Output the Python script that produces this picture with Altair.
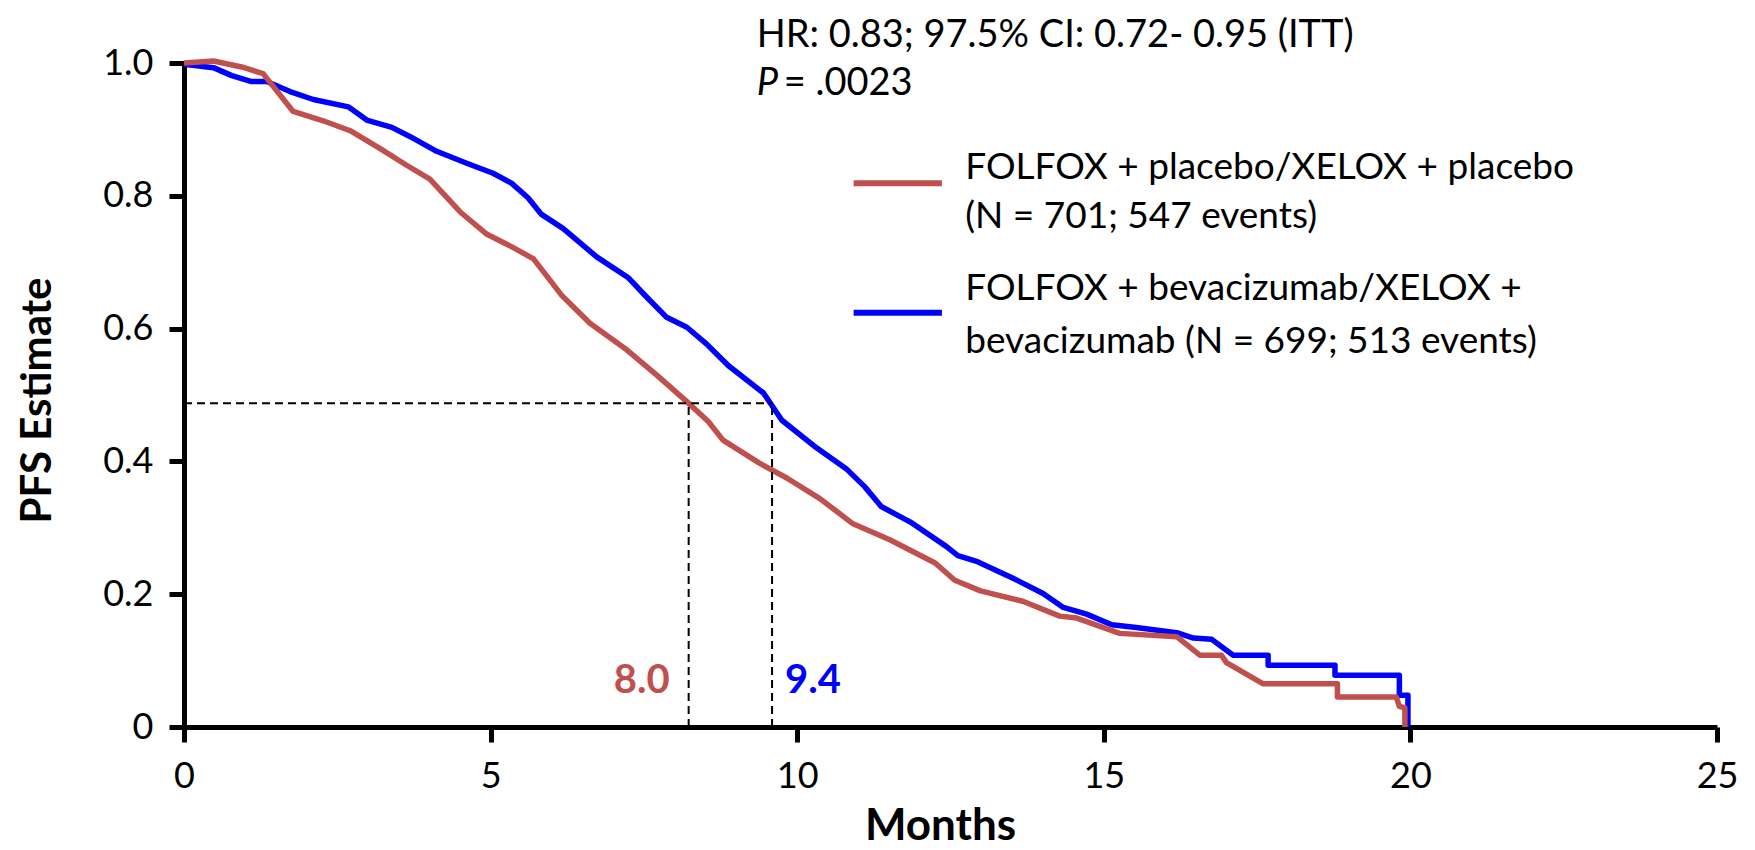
import altair as alt
import pandas as pd

# ---- data ----
placebo_months = [0, 0.48, 0.94, 1.29, 1.78, 2.27, 2.71, 3.20, 3.63, 4.01, 4.50, 4.94, 5.37, 5.70,
                  6.16, 6.62, 7.22, 7.71, 8.20, 8.55, 8.79, 9.39, 9.83, 10.37, 10.91, 11.51, 12.25,
                  12.57, 12.99, 13.69, 14.28, 14.56, 15.26, 16.19, 16.57, 16.92, 17.00, 17.60, 18.81,
                  18.81, 19.77, 19.82, 19.91, 19.91]
placebo_pfs = [1.0, 1.003, 0.994, 0.984, 0.927, 0.913, 0.898, 0.871, 0.846, 0.825, 0.776, 0.742, 0.722,
               0.705, 0.650, 0.608, 0.568, 0.530, 0.490, 0.460, 0.432, 0.397, 0.375, 0.344, 0.306,
               0.282, 0.247, 0.221, 0.205, 0.189, 0.167, 0.164, 0.141, 0.136, 0.108, 0.108, 0.097,
               0.065, 0.065, 0.045, 0.045, 0.031, 0.029, 0.0]

bev_months = [0, 0.48, 0.78, 1.10, 1.35, 1.73, 2.11, 2.68, 2.98, 3.39, 3.69, 4.12, 4.61, 5.04, 5.34,
              5.61, 5.83, 6.18, 6.73, 7.24, 7.54, 7.87, 8.20, 8.52, 8.88, 9.45, 9.53, 9.75, 10.32,
              10.81, 11.10, 11.37, 11.84, 12.43, 12.62, 12.94, 13.52, 14.01, 14.34, 14.72, 15.13,
              15.53, 16.19, 16.46, 16.76, 17.11, 17.68, 17.68, 18.77, 18.77, 19.82, 19.82, 19.96, 19.96]
bev_pfs = [0.998, 0.993, 0.981, 0.972, 0.972, 0.957, 0.945, 0.934, 0.914, 0.903, 0.889, 0.867, 0.849,
           0.834, 0.819, 0.797, 0.772, 0.751, 0.708, 0.677, 0.648, 0.617, 0.602, 0.577, 0.544, 0.503,
           0.492, 0.462, 0.420, 0.388, 0.362, 0.332, 0.309, 0.272, 0.258, 0.249, 0.224, 0.201, 0.180,
           0.170, 0.154, 0.150, 0.142, 0.134, 0.132, 0.108, 0.108, 0.093, 0.093, 0.078, 0.078, 0.048,
           0.048, 0.0]

series_names = ["placebo", "bev"]
series_colors = ["#C0504D", "#0000FF"]

x_ticks = [0, 5, 10, 15, 20, 25]
y_ticks = [0, 0.2, 0.4, 0.6, 0.8, 1.0]

median_pfs = 0.4875
median_placebo_x = 8.23
median_bev_x = 9.59
median_labels = ["8.0", "9.4"]

legend_lines = [
    ["FOLFOX + placebo/XELOX + placebo", "(N = 701; 547 events)"],
    ["FOLFOX + bevacizumab/XELOX +", "bevacizumab (N = 699; 513 events)"],
]
hr_text = "HR: 0.83; 97.5% CI: 0.72- 0.95 (ITT)"
p_label = "P"
p_value = "= .0023"

FONT = "Lato"

# ---- tables ----
rows = []
for i, (m, s) in enumerate(zip(bev_months, bev_pfs)):
    rows.append({"series": "bev", "month": m, "pfs": s, "idx": i})
for i, (m, s) in enumerate(zip(placebo_months, placebo_pfs)):
    rows.append({"series": "placebo", "month": m, "pfs": s, "idx": i})
curves = pd.DataFrame(rows)

xs = alt.Scale(domain=[0, 25], nice=False, zero=True)
ys = alt.Scale(domain=[0, 1], nice=False)
color_scale = alt.Scale(domain=series_names, range=series_colors)

x_axis = alt.Axis(values=x_ticks, format="d", title="Months", grid=False, labelFontSize=36,
                  labelFont=FONT, labelColor="black", labelPadding=17, tickSize=15, tickWidth=5,
                  tickColor="black", domainWidth=5, domainColor="black", titleFont=FONT,
                  titleFontSize=44, titleFontWeight="bold", titleColor="black", titleX=756,
                  titleY=112, titleBaseline="alphabetic", titleAnchor="middle", labelFlush=False)
y_axis = alt.Axis(values=y_ticks, title="PFS Estimate", grid=False, labelFontSize=36, labelFont=FONT,
                  labelColor="black", labelPadding=16, tickSize=15, tickWidth=5, tickColor="black",
                  domainWidth=5, domainColor="black", titleFont=FONT, titleFontSize=42,
                  titleFontWeight="bold", titleColor="black", titleX=-134, titleY=337,
                  titleAngle=-90, titleBaseline="alphabetic", titleAlign="center",
                  labelExpr="datum.value == 0 ? '0' : format(datum.value, '.1f')", labelFlush=False)

base = alt.Chart(curves)

lines = base.mark_line(strokeWidth=5.5, strokeJoin="round").encode(
    x=alt.X("month:Q", scale=xs, axis=x_axis),
    y=alt.Y("pfs:Q", scale=ys, axis=y_axis),
    color=alt.Color("series:N", scale=color_scale, legend=None),
    detail="series:N",
    order=alt.Order("idx:Q"),
)

dash_df = pd.DataFrame({
    "x": [0, median_placebo_x, median_bev_x],
    "x2": [median_bev_x, median_placebo_x, median_bev_x],
    "y": [median_pfs, 0, 0],
    "y2": [median_pfs, median_pfs, median_pfs],
})
dashes = alt.Chart(dash_df).mark_rule(color="black", strokeWidth=2, strokeDash=[8, 5]).encode(
    x=alt.X("x:Q", scale=xs), x2="x2:Q", y=alt.Y("y:Q", scale=ys), y2="y2:Q")

med_df = pd.DataFrame({"x": [7.92, 9.80], "y": [0.051, 0.051], "t": median_labels,
                       "series": series_names})
med_red = alt.Chart(med_df.iloc[[0]]).mark_text(font=FONT, fontSize=40, fontWeight="bold",
                                                align="right", baseline="alphabetic").encode(
    x=alt.X("x:Q", scale=xs), y=alt.Y("y:Q", scale=ys), text="t:N",
    color=alt.Color("series:N", scale=color_scale, legend=None))
med_blue = alt.Chart(med_df.iloc[[1]]).mark_text(font=FONT, fontSize=40, fontWeight="bold",
                                                 align="left", baseline="alphabetic").encode(
    x=alt.X("x:Q", scale=xs), y=alt.Y("y:Q", scale=ys), text="t:N",
    color=alt.Color("series:N", scale=color_scale, legend=None))

hr_df = pd.DataFrame({"x": [9.34, 9.78], "y": [1.024, 0.952], "t": [hr_text, p_value]})
hr_marks = alt.Chart(hr_df).mark_text(font=FONT, fontSize=38, align="left", baseline="alphabetic",
                                      color="black").encode(
    x=alt.X("x:Q", scale=xs), y=alt.Y("y:Q", scale=ys), text="t:N")
p_df = pd.DataFrame({"x": [9.34], "y": [0.952], "t": [p_label]})
p_mark = alt.Chart(p_df).mark_text(font=FONT, fontSize=38, fontStyle="italic", align="left",
                                   baseline="alphabetic", color="black").encode(
    x=alt.X("x:Q", scale=xs), y=alt.Y("y:Q", scale=ys), text="t:N")

leg_line_df = pd.DataFrame({"x": [10.92, 10.92], "x2": [12.36, 12.36], "y": [0.819, 0.624],
                            "series": series_names})
leg_lines = alt.Chart(leg_line_df).mark_rule(strokeWidth=6).encode(
    x=alt.X("x:Q", scale=xs), x2="x2:Q", y=alt.Y("y:Q", scale=ys),
    color=alt.Color("series:N", scale=color_scale, legend=None))

leg_text_df = pd.DataFrame({
    "x": [12.74, 12.74, 12.74, 12.74],
    "y": [0.825, 0.752, 0.643, 0.564],
    "t": [legend_lines[0][0], legend_lines[0][1], legend_lines[1][0], legend_lines[1][1]],
})
leg_texts = alt.Chart(leg_text_df).mark_text(font=FONT, fontSize=37, align="left",
                                             baseline="alphabetic", color="black").encode(
    x=alt.X("x:Q", scale=xs), y=alt.Y("y:Q", scale=ys), text="t:N")

chart = alt.layer(lines, dashes, med_red, med_blue, hr_marks, p_mark, leg_lines, leg_texts).properties(
    width=1533, height=664,
    autosize=alt.AutoSizeParams(type="none"),
    padding={"left": 176, "top": 55, "right": 28, "bottom": 123},
).configure_view(stroke=None)

chart.save("out.html", embed_options={"renderer": "svg", "actions": False})
